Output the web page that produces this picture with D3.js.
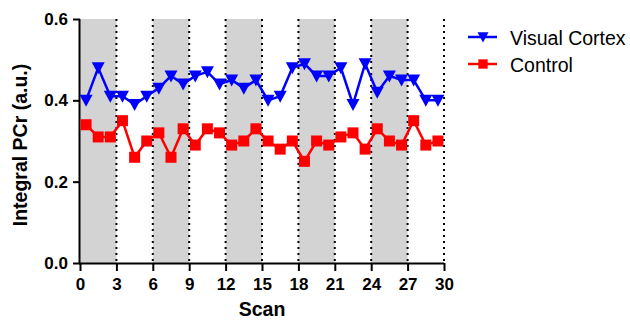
<!DOCTYPE html>
<html>
<head>
<meta charset="utf-8">
<script src="https://cdn.jsdelivr.net/npm/d3@7"></script>
<style>
  body { margin: 0; background: #fff; }
  svg text { font-family: "Liberation Sans", Arial, sans-serif; }
</style>
</head>
<body>
<svg id="chart" width="630" height="322"></svg>
<script>
// data
const scans = d3.range(30).map(i => i + 0.5)
const visualCortex = [0.40,0.48,0.41,0.41,0.39,0.41,0.43,0.46,0.44,0.46,0.47,0.44,0.45,0.43,0.45,0.40,0.41,0.48,0.49,0.46,0.46,0.48,0.39,0.49,0.42,0.46,0.45,0.45,0.40,0.40]
const control = [0.34,0.31,0.31,0.35,0.26,0.30,0.32,0.26,0.33,0.29,0.33,0.32,0.29,0.30,0.33,0.30,0.28,0.30,0.25,0.30,0.29,0.31,0.32,0.28,0.33,0.30,0.29,0.35,0.29,0.30]
const bands = [[0,3],[6,9],[12,15],[18,21],[24,27]]
const dottedAt = [3,6,9,12,15,18,21,24,27,30]
const xTicks = [0,3,6,9,12,15,18,21,24,27,30]
const yTicks = [0,0.2,0.4,0.6]

const svg = d3.select("#chart")
const pLeft = 80, pRight = 444, pTop = 19, pBottom = 263

const x = d3.scaleLinear().domain([0, 30]).range([pLeft, pRight])
const y = d3.scaleLinear().domain([0, 0.6]).range([pBottom, pTop])

// grey stimulation bands
svg.selectAll("rect.band")
  .data(bands)
  .enter()
  .append("rect")
    .attr("class", "band")
    .attr("x", d => x(d[0]))
    .attr("y", y(0.6))
    .attr("width", d => x(d[1]) - x(d[0]))
    .attr("height", y(0) - y(0.6))
    .attr("fill", "#d3d3d3")

// dotted vertical lines
svg.selectAll("line.dot")
  .data(dottedAt)
  .enter()
  .append("line")
    .attr("x1", d => x(d)).attr("x2", d => x(d))
    .attr("y1", y(0.6)).attr("y2", y(0))
    .attr("stroke", "black")
    .attr("stroke-width", 2)
    .attr("stroke-dasharray", "2,4")

// axes
const xAxis = svg.append("g")
  .attr("transform", `translate(0,${pBottom})`)
  .call(d3.axisBottom(x).tickValues(xTicks).tickSize(8).tickPadding(7).tickFormat(d3.format("d")))
const yAxis = svg.append("g")
  .attr("transform", `translate(${pLeft},0)`)
  .call(d3.axisLeft(y).tickValues(yTicks).tickSize(7).tickPadding(5).tickFormat(d3.format(".1f")))

for (const ax of [xAxis, yAxis]) {
  ax.select(".domain").attr("stroke-width", 2)
  ax.selectAll(".tick line").attr("stroke-width", 2)
  ax.selectAll(".tick text")
    .attr("font-size", 17)
    .attr("font-weight", "bold")
    .attr("fill", "black")
    .style("font-family", '"Liberation Sans", Arial, sans-serif')
}
// domain lines without end ticks
xAxis.select(".domain").attr("d", `M${pLeft - 1},0.5H${pRight}`)
yAxis.select(".domain").attr("d", `M-0.5,${pBottom}V${pTop}`)

// axis titles
svg.append("text")
  .attr("x", (pLeft + pRight) / 2)
  .attr("y", 316)
  .attr("text-anchor", "middle")
  .attr("font-size", 19.5)
  .attr("font-weight", "bold")
  .text("Scan")
svg.append("text")
  .attr("transform", `translate(27,145) rotate(-90)`)
  .attr("text-anchor", "middle")
  .attr("font-size", 19.5)
  .attr("font-weight", "bold")
  .text("Integral PCr (a.u.)")

// series
const series = [
  { name: "Visual Cortex", values: visualCortex, color: "#0000ff", shape: "tri" },
  { name: "Control", values: control, color: "#ff0000", shape: "sq" }
]

const line = d3.line()

function drawMarker(g, shape, color, k) {
  if (shape === "tri") {
    g.append("path").attr("d", `M${-6.5*k},${-5.5*k}L${6.5*k},${-5.5*k}L0,${6.5*k}Z`).attr("fill", color)
  } else {
    g.append("rect").attr("x", -5.5*k).attr("y", -5.5*k).attr("width", 11*k).attr("height", 11*k).attr("fill", color)
  }
}

for (const s of series.slice().reverse()) {
  const pts = scans.map((sc, i) => [x(sc), y(s.values[i])])
  svg.append("path")
    .attr("d", line(pts))
    .attr("fill", "none")
    .attr("stroke", s.color)
    .attr("stroke-width", 2.5)
  pts.forEach(p => {
    const g = svg.append("g").attr("transform", `translate(${p[0]},${p[1]})`)
    drawMarker(g, s.shape, s.color, 1)
  })
}

// legend
series.forEach((s, i) => {
  const ly = 37 + i * 27
  svg.append("line")
    .attr("x1", 468).attr("x2", 497)
    .attr("y1", ly).attr("y2", ly)
    .attr("stroke", s.color).attr("stroke-width", 2.5)
  const g = svg.append("g").attr("transform", `translate(483,${ly})`)
  drawMarker(g, s.shape, s.color, 0.85)
  svg.append("text")
    .attr("x", 510).attr("y", ly + 8)
    .attr("font-size", 19.5)
    .text(s.name)
})
</script>
</body>
</html>
